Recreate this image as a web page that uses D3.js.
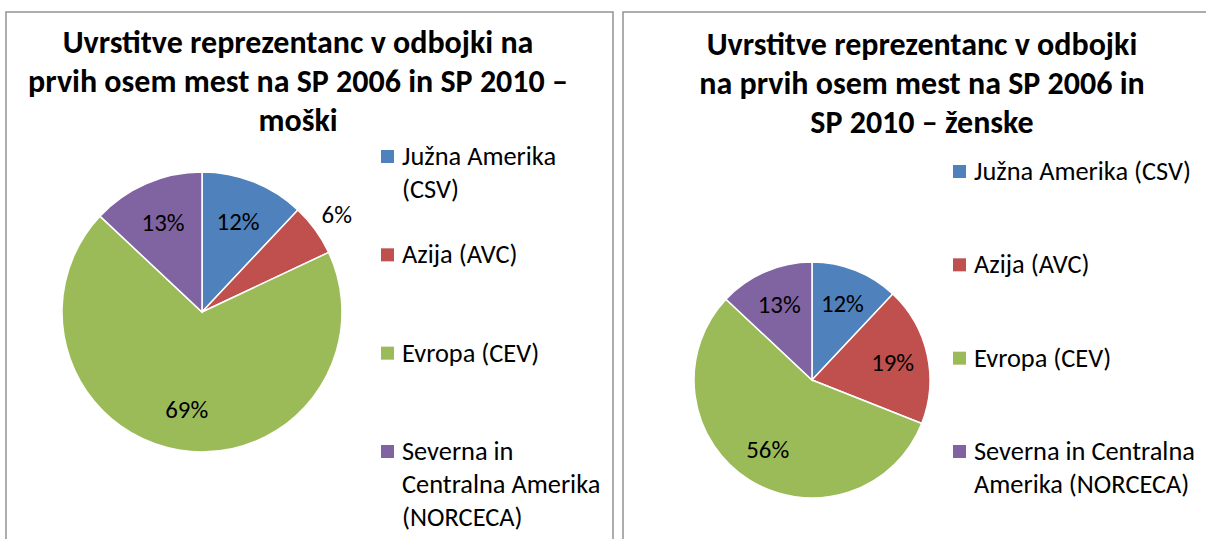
<!DOCTYPE html>
<html>
<head>
<meta charset="utf-8">
<script src="https://cdn.jsdelivr.net/npm/d3@7"></script>
<style>
  body { margin: 0; background: #fff; }
  svg { display: block; font-family: Carlito, Calibri, Lato, "Open Sans", sans-serif; }
</style>
</head>
<body>
<div id="chart"></div>
<script>
const categories = ["Južna Amerika (CSV)", "Azija (AVC)", "Evropa (CEV)", "Severna in Centralna Amerika (NORCECA)"];
const colors = ["#4F81BD", "#C0504D", "#9BBB59", "#8064A2"];

const menValues = [12, 6, 69, 13];
const womenValues = [12, 19, 56, 13];

const menTitle = ["Uvrstitve reprezentanc v odbojki na", "prvih osem mest na SP 2006 in SP 2010 –", "moški"];
const womenTitle = ["Uvrstitve reprezentanc v odbojki", "na prvih osem mest na SP 2006 in", "SP 2010 – ženske"];

const menLegend = [["Južna Amerika", "(CSV)"], ["Azija (AVC)"], ["Evropa (CEV)"], ["Severna in", "Centralna Amerika", "(NORCECA)"]];
const womenLegend = [["Južna Amerika (CSV)"], ["Azija (AVC)"], ["Evropa (CEV)"], ["Severna in Centralna", "Amerika (NORCECA)"]];

const width = 1206;
const height = 539;

const svg = d3.select("#chart")
    .append("svg")
    .attr("width", width)
    .attr("height", height);

// measure text so sizes fit the original widths whatever font is found
function measure(str, weight) {
    const t = svg.append("text")
        .attr("font-size", 100)
        .attr("font-weight", weight)
        .text(str);
    const w = t.node().getComputedTextLength();
    t.remove();
    return w;
}
const titleSize = 100 * 471 / measure(menTitle[0], "bold");
const legendSize = 100 * 217 / measure(womenLegend[0][0], "normal");
const labelSize = 100 * 43 / measure("12%", "normal");

function drawPanel(o) {
    const g = svg.append("g");

    // frame (bottom and right run off the picture)
    g.append("rect")
        .attr("x", o.frame[0])
        .attr("y", 12)
        .attr("width", o.frame[1] - o.frame[0])
        .attr("height", 600)
        .attr("fill", "#fff")
        .attr("stroke", "#939393")
        .attr("stroke-width", 1.5);

    g.append("text")
        .attr("text-anchor", "middle")
        .attr("font-weight", "bold")
        .attr("font-size", titleSize)
        .attr("fill", "#000")
        .selectAll("tspan")
        .data(o.title)
        .enter().append("tspan")
        .attr("x", o.titleX)
        .attr("y", (d, i) => o.titleY + i * 39)
        .text(d => d);

    const pie = d3.pie().sort(null).value(d => d);
    const arcs = pie(o.values);
    const arc = d3.arc().innerRadius(0).outerRadius(o.r);
    const pieG = g.append("g").attr("transform", `translate(${o.cx},${o.cy})`);

    pieG.selectAll("path")
        .data(arcs)
        .enter().append("path")
        .attr("d", arc)
        .attr("fill", (d, i) => colors[i])
        .attr("stroke", "#fff")
        .attr("stroke-width", 1.5);

    const inner = d3.arc().innerRadius(o.r * 0.7).outerRadius(o.r * 0.7);
    const outer = d3.arc().innerRadius(o.r * 1.19).outerRadius(o.r * 1.19);

    pieG.selectAll("text")
        .data(arcs)
        .enter().append("text")
        .attr("transform", d => {
            const c = (d.data < 10 ? outer : inner).centroid(d);
            return `translate(${c[0]},${c[1]})`;
        })
        .attr("text-anchor", "middle")
        .attr("dy", "0.35em")
        .attr("font-size", labelSize)
        .attr("fill", "#000")
        .text(d => d.data + "%");

    const rowY = d3.scaleLinear().domain([0, categories.length - 1]).range(o.legendY);
    const item = g.selectAll(".legend-item")
        .data(categories)
        .enter().append("g")
        .attr("class", "legend-item")
        .attr("transform", (d, i) => `translate(${o.legendX},${rowY(i)})`);

    item.append("rect")
        .attr("x", 0)
        .attr("y", -15)
        .attr("width", 13)
        .attr("height", 13)
        .attr("fill", (d, i) => colors[i]);

    item.append("text")
        .attr("font-size", legendSize)
        .attr("fill", "#000")
        .selectAll("tspan")
        .data((d, i) => o.legend[i])
        .enter().append("tspan")
        .attr("x", 21)
        .attr("y", (d, j) => j * 33)
        .text(d => d);
}

drawPanel({
    frame: [6, 613],
    title: menTitle,
    titleX: 298,
    titleY: 53,
    values: menValues,
    cx: 202, cy: 312, r: 140,
    legend: menLegend,
    legendX: 381,
    legendY: [165, 460]
});

drawPanel({
    frame: [623, 1240],
    title: womenTitle,
    titleX: 922,
    titleY: 55,
    values: womenValues,
    cx: 812, cy: 380, r: 118,
    legend: womenLegend,
    legendX: 953,
    legendY: [180, 460]
});
</script>
</body>
</html>
